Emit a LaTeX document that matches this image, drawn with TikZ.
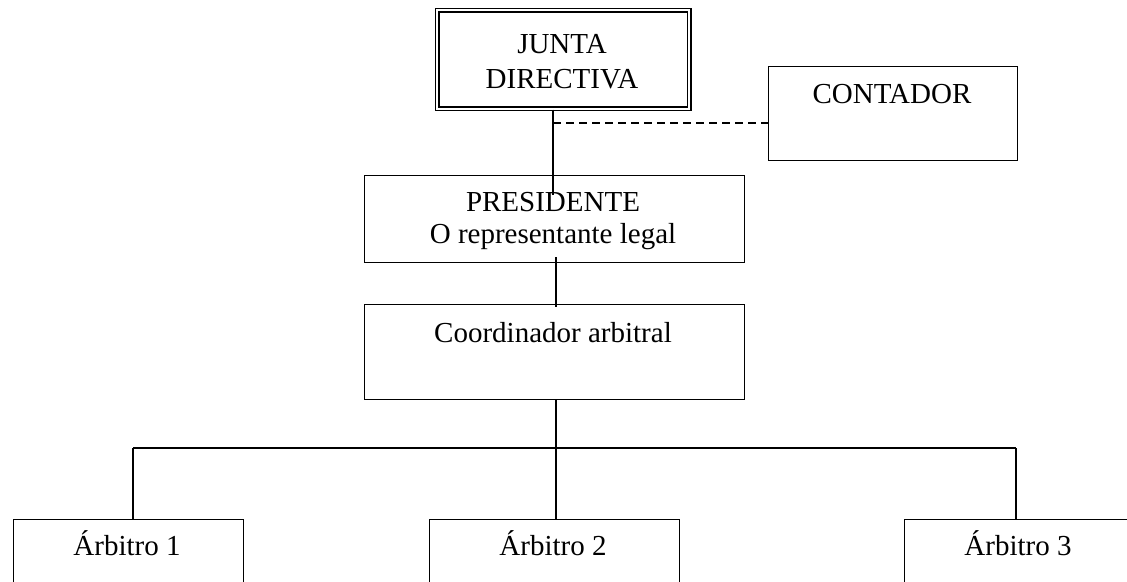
\documentclass[tikz,border=0pt]{standalone}
\usepackage{fontspec}
\setmainfont{Liberation Serif}
\begin{document}
\begin{tikzpicture}[x=1pt,y=-1pt,
  box/.style={draw, line width=1.2pt, rectangle, inner sep=0pt, anchor=north west},
  dbox/.style={draw, double, double distance=2pt, line width=1.5pt, rectangle, inner sep=0pt, anchor=north west},
  txt/.style={anchor=base, inner sep=0pt, font=\fontsize{29}{34}\selectfont},
  conn/.style={line width=1.2pt},
  dashconn/.style={line width=1.2pt, dash pattern=on 8pt off 5pt}]
\useasboundingbox (0,0) rectangle (1127,581);
% boxes
\node[dbox, minimum width=252pt, minimum height=98.5pt] (junta) at (436.5,9.5) {};
\node[box, minimum width=249pt, minimum height=94pt] (contador) at (767.6,65.6) {};
\node[box, minimum width=380pt, minimum height=87pt] (pres) at (363.6,174.6) {};
\node[box, minimum width=380pt, minimum height=95pt] (coord) at (363.6,303.6) {};
\node[box, minimum width=230pt, minimum height=120pt] (arb1) at (12.6,518.6) {};
\node[box, minimum width=250pt, minimum height=120pt] (arb2) at (428.6,518.6) {};
\node[box, minimum width=230pt, minimum height=120pt] (arb3) at (903.6,518.6) {};
% texts
\node[txt] (jt1) at (562,53) {JUNTA};
\node[txt] (jt2) at (562,88) {DIRECTIVA};
\node[txt] (ct) at (892,103) {CONTADOR};
\node[txt] (pt1) at (553,211) {PRESIDENTE};
\node[txt] (pt2) at (553,243) {O representante legal};
\node[txt] (cot) at (553,342) {Coordinador arbitral};
\node[txt] (a1t) at (127,555) {Árbitro 1};
\node[txt] (a2t) at (553,555) {Árbitro 2};
\node[txt] (a3t) at (1018,555) {Árbitro 3};
% connectors
\coordinate (jp) at (553,195);
\draw[conn] (junta.south -| jp) -- (jp);
\coordinate (ds) at (553,123);
\draw[dashconn] (ds) -- (ds -| contador.west);
\coordinate (pc1) at (556,257);
\coordinate (pc2) at (556,307);
\draw[conn] (pc1) -- (pc2);
\coordinate (hub) at (556,448);
\coordinate (hl) at (133,448);
\coordinate (hr) at (1016,448);
\draw[conn] (coord.south -| hub) -- (hub);
\draw[conn] (hl) -- (hr);
\draw[conn] (hl) -- (hl |- arb1.north);
\draw[conn] (hub) -- (hub |- arb2.north);
\draw[conn] (hr) -- (hr |- arb3.north);
\end{tikzpicture}
\end{document}
